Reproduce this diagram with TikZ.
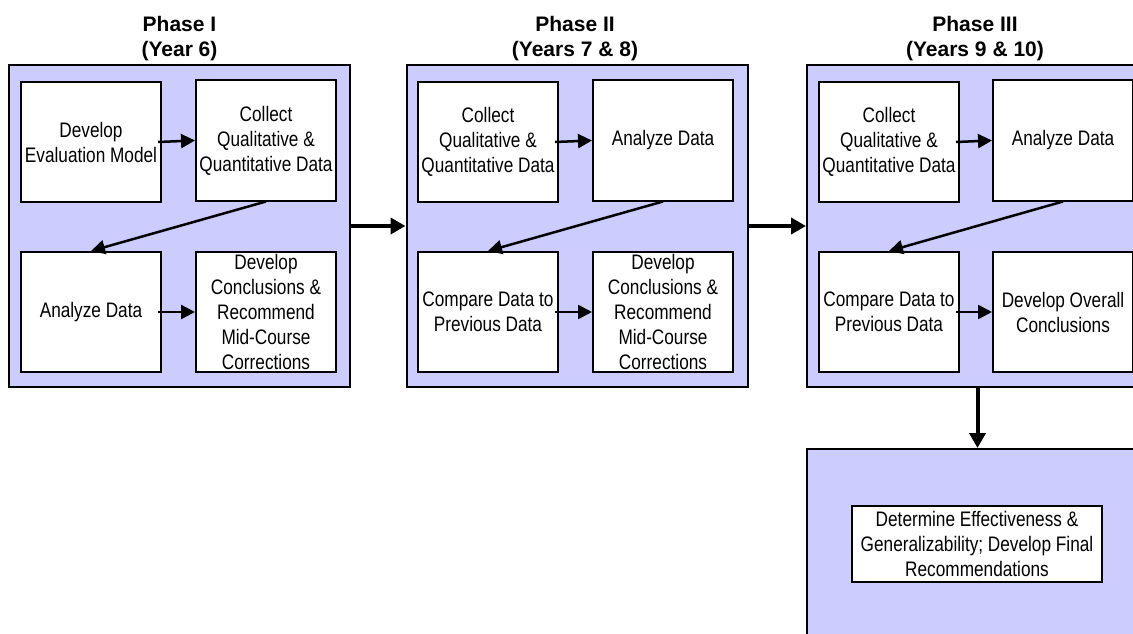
\documentclass[tikz,border=0pt]{standalone}
\usepackage{fontspec}
\setmainfont{Liberation Sans}
\newfontfamily\narrowfont[FakeStretch=0.82]{Liberation Sans}
\usetikzlibrary{arrows.meta}
\definecolor{phasefill}{RGB}{204,204,255}

\begin{document}
\begin{tikzpicture}[x=1pt,y=-1pt,
    phase/.style={draw=black,fill=phasefill,line width=2pt,minimum width=341pt,minimum height=322pt,inner sep=0pt},
    stepbox/.style={draw=black,fill=white,line width=2pt,minimum width=140pt,minimum height=120pt,inner sep=0pt,
      align=center,font=\narrowfont\fontsize{21}{25}\selectfont},
    title/.style={align=center,font=\bfseries\fontsize{21}{25}\selectfont},
    arr/.style={-{Triangle[length=14pt,width=14pt]},line width=2.5pt},
    bigarr/.style={-{Triangle[length=15pt,width=16pt]},line width=4pt}]
      \fill[white] (0,0) rectangle (1133,634);
      \useasboundingbox (0,0) rectangle (1133,634);
      \clip (0,0) rectangle (1133,634);

      % phase I
      \node[phase] (p1) at (179.5,226) {};
      \node[title] (t1) at (179.5,38.5) {Phase I\\(Year 6)};
      \node[stepbox] (p1a) at (91,142) {Develop\\Evaluation Model};
      \node[stepbox] (p1b) at (266,140.5) {Collect\\Qualitative \&\\Quantitative Data};
      \node[stepbox] (p1c) at (91,312) {Analyze Data};
      \node[stepbox] (p1d) at (266,312) {Develop\\Conclusions \&\\Recommend\\Mid-Course\\Corrections};
      \draw[arr] ([xshift=-4pt]p1a.east) -- (p1b.west);
      \draw[arr] (p1b.south) -- (p1c.north);
      \draw[arr] ([xshift=-4pt]p1c.east) -- (p1d.west);

      % phase II
      \node[phase] (p2) at (577,226) {};
      \node[title] (t2) at (575,38.5) {Phase II\\(Years 7 \& 8)};
      \node[stepbox] (p2a) at (488,142) {Collect\\Qualitative \&\\Quantitative Data};
      \node[stepbox] (p2b) at (663,140.5) {Analyze Data};
      \node[stepbox] (p2c) at (488,312) {Compare Data to\\Previous Data};
      \node[stepbox] (p2d) at (663,312) {Develop\\Conclusions \&\\Recommend\\Mid-Course\\Corrections};
      \draw[arr] ([xshift=-4pt]p2a.east) -- (p2b.west);
      \draw[arr] (p2b.south) -- (p2c.north);
      \draw[arr] ([xshift=-4pt]p2c.east) -- (p2d.west);

      % phase III
      \node[phase] (p3) at (977.5,226) {};
      \node[title] (t3) at (975,38.5) {Phase III\\(Years 9 \& 10)};
      \node[stepbox] (p3a) at (889,142) {Collect\\Qualitative \&\\Quantitative Data};
      \node[stepbox] (p3b) at (1063,140.5) {Analyze Data};
      \node[stepbox] (p3c) at (889,312) {Compare Data to\\Previous Data};
      \node[stepbox] (p3d) at (1063,312) {Develop Overall\\Conclusions};
      \draw[arr] ([xshift=-4pt]p3a.east) -- (p3b.west);
      \draw[arr] (p3b.south) -- (p3c.north);
      \draw[arr] ([xshift=-4pt]p3c.east) -- (p3d.west);

      % final step
      \node[phase,minimum height=190pt] (p4) at (977.5,544) {};
      \node[stepbox,minimum width=250pt,minimum height=76pt] (p4a) at (977,544)
        {Determine Effectiveness \&\\Generalizability; Develop Final\\Recommendations};

      \draw[bigarr] (p1.east) -- (p2.west);
      \draw[bigarr] (p2.east) -- (p3.west);
      \draw[bigarr] (p3.south) -- (p4.north);
    \end{tikzpicture}
\end{document}
